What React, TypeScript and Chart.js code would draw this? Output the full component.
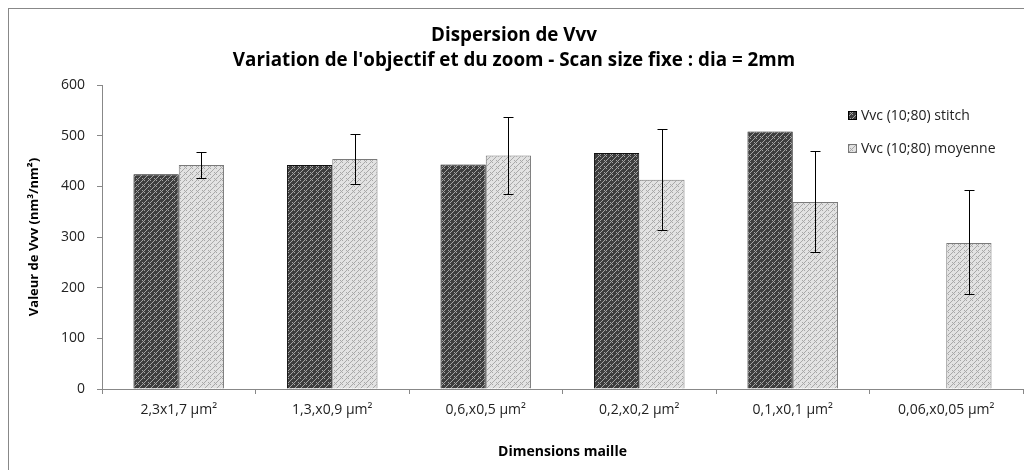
import React, { useEffect, useRef } from "react";
import { Chart, registerables } from "chart.js";
Chart.register(...registerables);

const categories = ["2,3x1,7 µm²", "1,3,x0,9 µm²", "0,6,x0,5 µm²", "0,2,x0,2 µm²", "0,1,x0,1 µm²", "0,06,x0,05 µm²"];
const stitchValues: (number | null)[] = [424, 442, 443, 466, 508, null];
const moyenneValues = [442, 454, 461, 413, 369, 288];
const moyenneErrHigh = [468, 504, 537, 513, 470, 392];
const moyenneErrLow = [416, 405, 385, 313, 270, 187];
const yTicks = [0, 100, 200, 300, 400, 500, 600];
const seriesNames = ["Vvc (10;80) stitch", "Vvc (10;80) moyenne"];
const titleLines = ["Dispersion de Vvv", "Variation de l'objectif et du zoom - Scan size fixe : dia = 2mm"];

const FONT = "'Open Sans', 'Noto Sans', sans-serif";

function makePattern(bg: string, fg: string): CanvasPattern | string {
  const c = document.createElement("canvas");
  c.width = 6;
  c.height = 6;
  const ctx = c.getContext("2d");
  if (!ctx) return bg;
  ctx.fillStyle = bg;
  ctx.fillRect(0, 0, 6, 6);
  ctx.fillStyle = fg;
  const pts = [[1, 1], [3, 1], [2, 2], [1, 3], [3, 3], [5, 5], [4, 0], [0, 4]];
  pts.forEach(([x, y]) => ctx.fillRect(x, y, 1, 1));
  const p = ctx.createPattern(c, "repeat");
  return p || bg;
}

export default function App() {
  const ref = useRef<HTMLCanvasElement | null>(null);
  useEffect(() => {
    if (!ref.current) return;
    const darkFill = makePattern("#3e3e3e", "#a4a4a4");
    const lightFill = makePattern("#e2e2e2", "#a8a8a8");

    const errorBars = {
      id: "errorBars",
      afterDatasetsDraw(chart: any) {
        const meta = chart.getDatasetMeta(1);
        const ys = chart.scales.y;
        const ctx = chart.ctx;
        ctx.save();
        ctx.strokeStyle = "#000";
        ctx.lineWidth = 1;
        meta.data.forEach((bar: any, i: number) => {
          const x = Math.round(bar.x) + 0.5;
          const yh = Math.round(ys.getPixelForValue(moyenneErrHigh[i])) + 0.5;
          const yl = Math.round(ys.getPixelForValue(moyenneErrLow[i])) + 0.5;
          ctx.beginPath();
          ctx.moveTo(x, yh);
          ctx.lineTo(x, yl);
          ctx.moveTo(x - 5, yh);
          ctx.lineTo(x + 5, yh);
          ctx.moveTo(x - 5, yl);
          ctx.lineTo(x + 5, yl);
          ctx.stroke();
        });
        ctx.restore();
      },
    };

    const decorations = {
      id: "decorations",
      afterDraw(chart: any) {
        const ctx = chart.ctx;
        ctx.save();
        ctx.fillStyle = "#000";
        ctx.textAlign = "center";
        ctx.textBaseline = "middle";
        ctx.font = `bold 18.8px ${FONT}`;
        ctx.fillText(titleLines[0], 505, 27);
        ctx.fillText(titleLines[1], 505, 52);
        // legend
        ctx.font = `14px ${FONT}`;
        ctx.textAlign = "left";
        const fills = [darkFill, lightFill];
        const borders = ["#000", "#777"];
        const ys = [106, 139];
        seriesNames.forEach((name, i) => {
          ctx.fillStyle = fills[i];
          ctx.fillRect(839, ys[i] - 4, 9, 9);
          ctx.strokeStyle = borders[i];
          ctx.lineWidth = 1;
          ctx.strokeRect(839.5, ys[i] - 3.5, 8, 8);
          ctx.fillStyle = "#222";
          ctx.fillText(name, 852, ys[i] + 1);
        });
        ctx.restore();
      },
    };

    const chart = new Chart(ref.current, {
      type: "bar",
      data: {
        labels: categories,
        datasets: [
          {
            label: seriesNames[0],
            data: stitchValues,
            backgroundColor: darkFill as any,
            borderColor: "#111",
            borderWidth: 1,
            borderSkipped: "bottom",
            categoryPercentage: 0.59,
            barPercentage: 1,
          },
          {
            label: seriesNames[1],
            data: moyenneValues,
            backgroundColor: lightFill as any,
            borderColor: "#7a7a7a",
            borderWidth: 1,
            borderSkipped: "bottom",
            categoryPercentage: 0.59,
            barPercentage: 1,
          },
        ],
      },
      options: {
        responsive: false,
        animation: false,
        maintainAspectRatio: false,
        layout: { padding: { top: 76, right: 9, left: 17, bottom: 0 } },
        plugins: {
          legend: { display: false },
          title: { display: false },
          tooltip: { enabled: false },
        },
        scales: {
          x: {
            offset: true,
            grid: {
              display: true,
              drawOnChartArea: false,
              offset: true,
              tickLength: 5,
              color: "#888",
            },
            border: { display: true, color: "#888", width: 1 },
            ticks: {
              color: "#222",
              font: { family: FONT, size: 14 },
              padding: 8,
              maxRotation: 0,
              autoSkip: false,
            },
            title: {
              display: true,
              text: "Dimensions maille",
              color: "#000",
              font: { family: FONT, size: 14, weight: "bold" },
              padding: { top: 4, bottom: 10 },
            },
            afterFit(scale: any) {
              scale.height = 81;
            },
          } as any,
          y: {
            min: 0,
            max: 600,
            afterBuildTicks(scale: any) {
              scale.ticks = yTicks.map((v) => ({ value: v }));
            },
            grid: {
              display: true,
              drawOnChartArea: false,
              tickLength: 5,
              color: "#888",
            },
            border: { display: true, color: "#888", width: 1 },
            ticks: {
              color: "#222",
              font: { family: FONT, size: 14 },
              padding: 12,
            },
            title: {
              display: true,
              text: "Valeur de Vvv (nm³/nm²)",
              color: "#000",
              font: { family: FONT, size: 13, weight: "bold" },
              padding: { top: 0, bottom: 0 },
            },
            afterFit(scale: any) {
              scale.width = 76;
            },
          } as any,
        },
      },
      plugins: [errorBars, decorations],
    });
    return () => chart.destroy();
  }, []);

  return (
    <div
      style={{
        width: 1030,
        height: 470,
        borderLeft: "1px solid #888",
        borderTop: "1px solid #888",
        background: "#fff",
        overflow: "hidden",
      }}
    >
      <canvas ref={ref} width={1023} height={461} style={{ display: "block" }} />
    </div>
  );
}
